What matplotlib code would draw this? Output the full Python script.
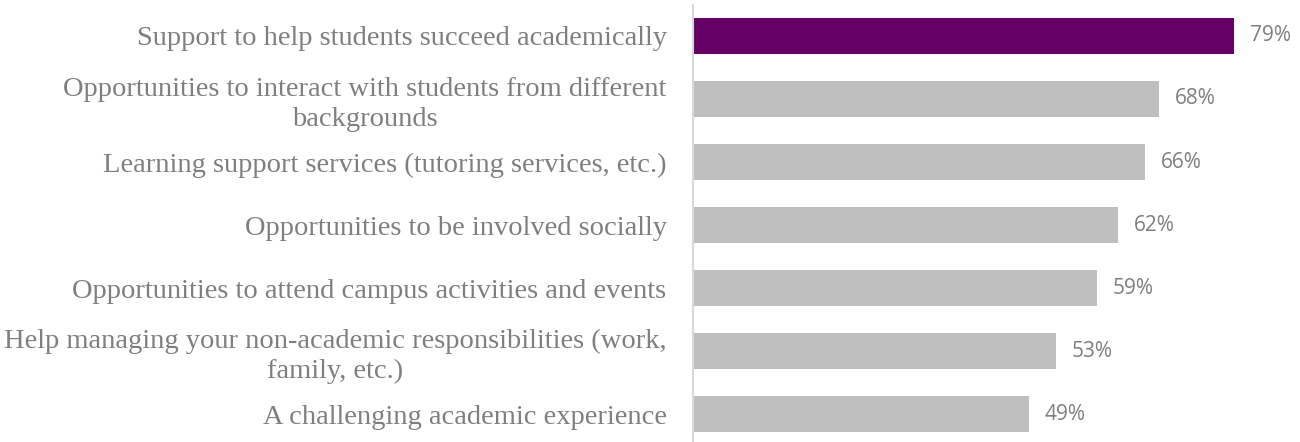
import matplotlib.pyplot as plt

# ================= DATA =================
categories = [
    "Support to help students succeed academically",
    "Opportunities to interact with students from different\nbackgrounds",
    "Learning support services (tutoring services, etc.)",
    "Opportunities to be involved socially",
    "Opportunities to attend campus activities and events",
    "Help managing your non-academic responsibilities (work,\nfamily, etc.)",
    "A challenging academic experience",
]
values = [79, 68, 66, 62, 59, 53, 49]
highlight = [True, False, False, False, False, False, False]

# ================= STYLE =================
PURPLE = "#660066"
GRAY = "#bfbfbf"
TEXT = "#7f7f7f"

fig = plt.figure(figsize=(13, 4.42), dpi=100)
ax = fig.add_axes([693 / 1300, 0.0, 1 - 693 / 1300, 1 - 5 / 442])

ypos = list(range(len(categories)))
colors = [PURPLE if h else GRAY for h in highlight]
bars = ax.barh(ypos, values, height=0.57, color=colors)

ax.set_xlim(0, 88.6)
ax.set_ylim(6.44, -0.49)

ax.set_yticks(ypos)
ax.set_yticklabels(categories, fontsize=20.5, color=TEXT,
                   family="Liberation Serif", multialignment="center",
                   linespacing=1.25)
ax.tick_params(axis="y", length=0, pad=19)
ax.set_xticks([])

for side in ["top", "right", "bottom"]:
    ax.spines[side].set_visible(False)
ax.spines["left"].set_color("#d9d9d9")
ax.spines["left"].set_linewidth(1.5)

for bar, v in zip(bars, values):
    ax.text(bar.get_width() + 2.3, bar.get_y() + bar.get_height() / 2,
            f"{v}%", va="center", ha="left", fontsize=15,
            color=TEXT, family="Open Sans")

fig.savefig("out.png", dpi=100)
plt.close(fig)
